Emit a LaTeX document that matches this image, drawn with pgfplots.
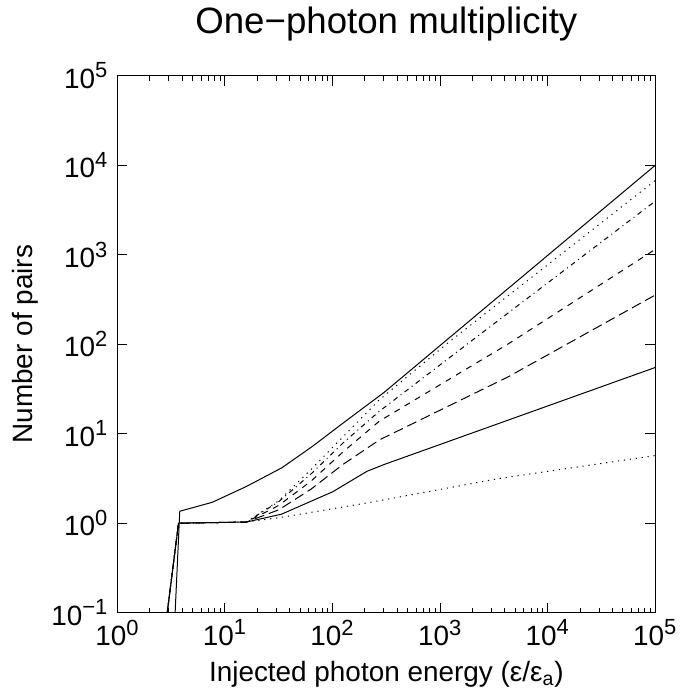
\documentclass[border=0pt]{standalone}
\usepackage{fontspec}
\setmainfont{Liberation Sans}
\usepackage{pgfplots}
\pgfplotsset{compat=1.18}
\newcommand\ex[1]{10\textsuperscript{\fontsize{11}{11}\selectfont #1}}
\begin{document}
\begin{tikzpicture}
\begin{loglogaxis}[
  scale only axis, width=270pt, height=269.5pt,
  xmin=1, xmax=1e5, ymin=0.1, ymax=1e5,
  xtick={1,10,100,1000,10000,100000},
  xticklabels={\ex{0},\ex{1},\ex{2},\ex{3},\ex{4},\ex{5}},
  minor xtick={2,3,4,5,6,7,8,9,20,30,40,50,60,70,80,90,200,300,400,500,600,700,800,900,2000,3000,4000,5000,6000,7000,8000,9000,20000,30000,40000,50000,60000,70000,80000,90000},
  ytick={0.1,1,10,100,1000,10000,100000},
  yticklabels={\ex{−1},\ex{0},\ex{1},\ex{2},\ex{3},\ex{4},\ex{5}},
  yminorticks=false,
  tick align=inside,
  major tick length=5pt, minor tick length=2.5pt,
  every tick/.style={black, line width=0.5pt},
  axis line style={line width=0.5pt},
  tick label style={font=\fontsize{14}{16}\selectfont},
  xticklabel style={inner xsep=1pt},
  yticklabel style={xshift=-1pt},
  label style={font=\fontsize{14}{16}\selectfont},
  xlabel style={yshift=-1pt},
  ylabel style={inner ysep=6pt, yshift=-2.8pt},
  title style={font=\fontsize{18.4}{20}\selectfont, yshift=8pt},
  title={One−photon multiplicity},
  xlabel={Injected photon energy (ε/ε\textsubscript{a})},
  ylabel={Number of pairs},
  every axis plot/.append style={black, line width=0.5pt},
]
% top solid
\addplot[solid] coordinates {
  (3.35,0.05) (3.8,1.36) (7.6,1.71) (15.8,2.57) (33.9,4.17) (64.6,7.18)
  (129,13.5) (302,29) (100000,10000)};
% upper dotted
\addplot[dash pattern=on 0.6pt off 2.4pt] coordinates {
  (2.7,0.05) (3.7,1) (15.8,1.03) (31.6,1.78) (63.1,3.98) (126,9.33)
  (272,23.9) (1200,105) (100000,6760)};
% dash-dot
\addplot[dash pattern=on 2.5pt off 2pt on 0.5pt off 2pt] coordinates {
  (2.7,0.05) (3.7,1) (15.8,1.03) (31.6,1.74) (63.1,3.55) (126,7.94)
  (272,17.8) (2630,143) (100000,3980)};
% short dashed
\addplot[dash pattern=on 3pt off 3pt] coordinates {
  (2.7,0.05) (3.7,1) (15.8,1.03) (31.6,1.58) (63.1,2.95) (126,6.31)
  (272,13.8) (4365,102) (100000,1150)};
% long dashed
\addplot[dash pattern=on 5pt off 2.5pt] coordinates {
  (2.7,0.05) (3.7,1) (15.8,1.03) (31.6,1.41) (63.1,2.4) (126,4.57)
  (272,8.51) (4365,43.7) (100000,355)};
% lower solid
\addplot[solid] coordinates {
  (2.7,0.05) (3.7,1) (15.8,1.03) (33.5,1.26) (100,2.24) (209,3.8)
  (302,4.53) (100000,55)};
% lower dotted
\addplot[dash pattern=on 0.6pt off 2.4pt] coordinates {
  (2.7,0.05) (3.7,1) (15.8,1.03) (34.7,1.17) (219,1.7) (3550,3.16)
  (100000,5.7)};
\end{loglogaxis}
\end{tikzpicture}
\end{document}
